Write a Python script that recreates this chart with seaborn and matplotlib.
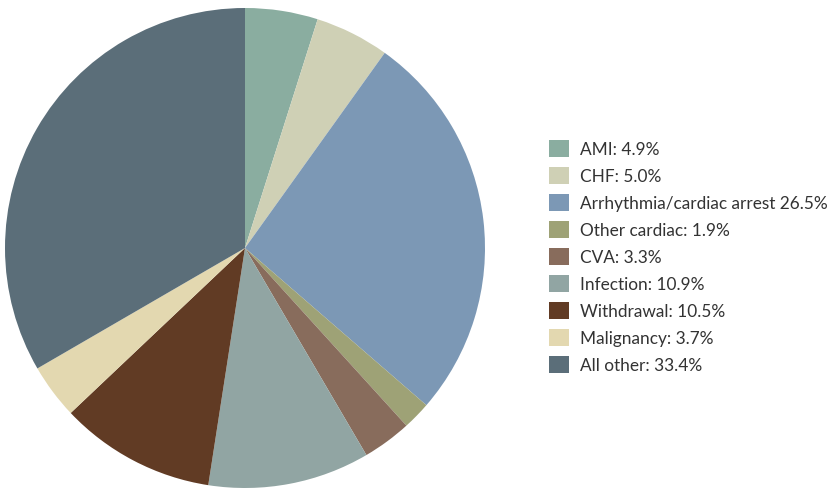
import matplotlib
matplotlib.use("Agg")
import matplotlib.pyplot as plt
import matplotlib.patches as mpatches
import seaborn as sns

# Causes of death (share, %), clockwise from 12 o'clock
causes = ["AMI", "CHF", "Arrhythmia/cardiac arrest", "Other cardiac", "CVA",
          "Infection", "Withdrawal", "Malignancy", "All other"]
shares = [4.9, 5.0, 26.5, 1.9, 3.3, 10.9, 10.5, 3.7, 33.4]
legend_labels = ["AMI: 4.9%", "CHF: 5.0%", "Arrhythmia/cardiac arrest 26.5%",
                 "Other cardiac: 1.9%", "CVA: 3.3%", "Infection: 10.9%",
                 "Withdrawal: 10.5%", "Malignancy: 3.7%", "All other: 33.4%"]
colors = ["#8aada0", "#cfd0b5", "#7c98b5", "#9ea276", "#886c5c",
          "#91a5a3", "#613b24", "#e3d8b0", "#5b6e79"]

sns.set_theme(style="white")
plt.rcParams["font.family"] = ["Lato", "DejaVu Sans"]

W, H = 832, 489
fig = plt.figure(figsize=(W / 100, H / 100), dpi=100)

# pie occupies a 480px square at the left
ax = fig.add_axes([5 / W, 0 / H, 480 / W, 480 / H])
ax.pie(shares, colors=colors, startangle=90, counterclock=False,
       radius=1, wedgeprops=dict(linewidth=0))
ax.set_xlim(-1, 1)
ax.set_ylim(-1, 1)
ax.set_aspect("equal")
ax.axis("off")

fs = 12.4
handles = [mpatches.Patch(facecolor=c, edgecolor="none") for c in colors]
fig.legend(handles, legend_labels, loc="upper left",
           bbox_to_anchor=(549 / W, 1 - 141 / H), frameon=False,
           fontsize=fs, handlelength=1.17, handleheight=1.17,
           handletextpad=0.62, labelspacing=0.55, borderpad=0,
           borderaxespad=0, labelcolor="#333333")

fig.savefig("out.png", dpi=100)
